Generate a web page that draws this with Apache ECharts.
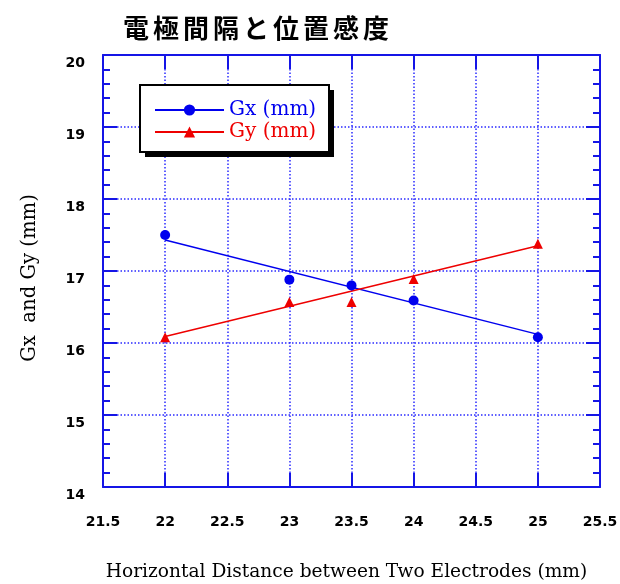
<!DOCTYPE html>
<html>
<head>
<meta charset="utf-8">
<script src="https://cdn.jsdelivr.net/npm/echarts@6/dist/echarts.min.js"></script>
<style>html,body{margin:0;padding:0;background:#fff;}#c{width:620px;height:584px;}</style>
</head>
<body>
<div id="c"></div>
<script>
var titleText = '電極間隔と位置感度';
var xValues = [22, 23, 23.5, 24, 25];
var gxValues = [17.5, 16.88, 16.8, 16.59, 16.08];
var gyValues = [16.08, 16.57, 16.57, 16.89, 17.38];
var fitX = [22, 25];
var gxFit = [17.43, 16.12];
var gyFit = [16.09, 17.35];
var xTicks = {min: 21.5, max: 25.5, interval: 0.5};
var yTicks = {min: 14, max: 20, interval: 1};
var nameGx = 'Gx (mm)';
var nameGy = 'Gy (mm)';
var xName = 'Horizontal Distance between Two Electrodes (mm)';
var yName = 'Gx  and Gy (mm)';

var BLUE = '#0000ee';
var RED = '#ee0000';
var AXIS = '#1515e6';

function pairs(xs, ys) { return xs.map(function (x, i) { return [x, ys[i]]; }); }

var chart = echarts.init(document.getElementById('c'), null, {renderer: 'canvas'});
var titleRich = titleText.split('').map(function (ch) { return '{c|' + ch + '}'; }).join('');

var axisLineStyle = {lineStyle: {color: AXIS, width: 2}};
var option = {
  animation: false,
  backgroundColor: '#fff',
  title: {
    text: titleRich,
    left: 116,
    top: 10,
    textStyle: {
      rich: {
        c: {fontSize: 26, fontWeight: 'bold', color: '#000', fontFamily: 'Noto Sans CJK JP', padding: [0, 2, 0, 2]}
      }
    }
  },
  graphic: [
    {type: 'rect', left: 145, top: 90, z: 5, shape: {width: 189, height: 67}, style: {fill: '#000'}},
    {type: 'rect', left: 139, top: 84, z: 6, shape: {width: 189, height: 67}, style: {fill: '#fff', stroke: '#000', lineWidth: 2}}
  ],
  legend: {
    orient: 'vertical',
    left: 154,
    top: 100,
    padding: 0,
    itemWidth: 69,
    itemHeight: 14,
    itemGap: 2,
    z: 10,
    selectedMode: false,
    textStyle: {fontFamily: 'DejaVu Serif', fontSize: 20, padding: [0, 0, 0, 0]},
    data: [
      {name: nameGx, textStyle: {color: BLUE}},
      {name: nameGy, textStyle: {color: RED}}
    ]
  },
  grid: {left: 103, right: 20, top: 55, bottom: 97, containLabel: false, outerBoundsMode: 'none'},
  xAxis: [{
    type: 'value', position: 'bottom',
    min: xTicks.min, max: xTicks.max, interval: xTicks.interval,
    axisLine: axisLineStyle,
    axisTick: {show: true, inside: true, length: 14, lineStyle: {color: AXIS, width: 2}},
    axisLabel: {margin: 28, color: '#000', fontFamily: 'DejaVu Sans', fontWeight: 'bold', fontSize: 14, showMinLabel: true, showMaxLabel: true},
    splitLine: {show: true, lineStyle: {color: '#2a2aff', width: 1.5, type: [1.5, 2]}},
    name: xName, nameLocation: 'middle', nameGap: 76,
    nameTextStyle: {fontFamily: 'DejaVu Serif', fontSize: 18.6, color: '#000', padding: [0, 10, 0, 0]}
  }, {
    type: 'value', position: 'top',
    min: xTicks.min, max: xTicks.max, interval: xTicks.interval,
    axisLine: axisLineStyle,
    axisTick: {show: true, inside: true, length: 14, lineStyle: {color: AXIS, width: 2}},
    axisLabel: {show: false},
    splitLine: {show: false}
  }],
  yAxis: [{
    type: 'value', position: 'left',
    min: yTicks.min, max: yTicks.max, interval: yTicks.interval,
    axisLine: axisLineStyle,
    axisTick: {show: true, inside: true, length: 14, lineStyle: {color: AXIS, width: 2}},
    minorTick: {show: true, splitNumber: 5, length: 7, lineStyle: {color: AXIS, width: 2}},
    axisLabel: {margin: 18, color: '#000', fontFamily: 'DejaVu Sans', fontWeight: 'bold', fontSize: 14, verticalAlign: 'top', padding: [1, 0, 0, 0]},
    splitLine: {show: true, lineStyle: {color: '#2a2aff', width: 1.5, type: [1.5, 2]}},
    name: yName, nameLocation: 'middle', nameGap: 63,
    nameTextStyle: {fontFamily: 'DejaVu Serif', fontSize: 19.6, color: '#000', padding: [0, 14, 0, 0]}
  }, {
    type: 'value', position: 'right',
    min: yTicks.min, max: yTicks.max, interval: yTicks.interval,
    axisLine: axisLineStyle,
    axisTick: {show: true, inside: true, length: 14, lineStyle: {color: AXIS, width: 2}},
    minorTick: {show: true, splitNumber: 5, length: 7, lineStyle: {color: AXIS, width: 2}},
    axisLabel: {show: false},
    splitLine: {show: false}
  }],
  series: [{
    name: nameGx, type: 'line', xAxisIndex: 0, yAxisIndex: 0,
    data: pairs(fitX, gxFit), symbol: 'circle', symbolSize: 10, showSymbol: false,
    lineStyle: {color: BLUE, width: 1.5}, itemStyle: {color: BLUE}, z: 3
  }, {
    name: nameGy, type: 'line', xAxisIndex: 0, yAxisIndex: 0,
    data: pairs(fitX, gyFit), symbol: 'triangle', symbolSize: 10, showSymbol: false,
    lineStyle: {color: RED, width: 1.5}, itemStyle: {color: RED}, z: 3
  }, {
    name: nameGx, type: 'scatter', xAxisIndex: 0, yAxisIndex: 0,
    data: pairs(xValues, gxValues), symbol: 'circle', symbolSize: 10,
    itemStyle: {color: BLUE, opacity: 1}, z: 4
  }, {
    name: nameGy, type: 'scatter', xAxisIndex: 0, yAxisIndex: 0,
    data: pairs(xValues, gyValues), symbol: 'triangle', symbolSize: 10,
    itemStyle: {color: RED, opacity: 1}, z: 4
  }]
};
chart.setOption(option);
</script>
</body>
</html>
